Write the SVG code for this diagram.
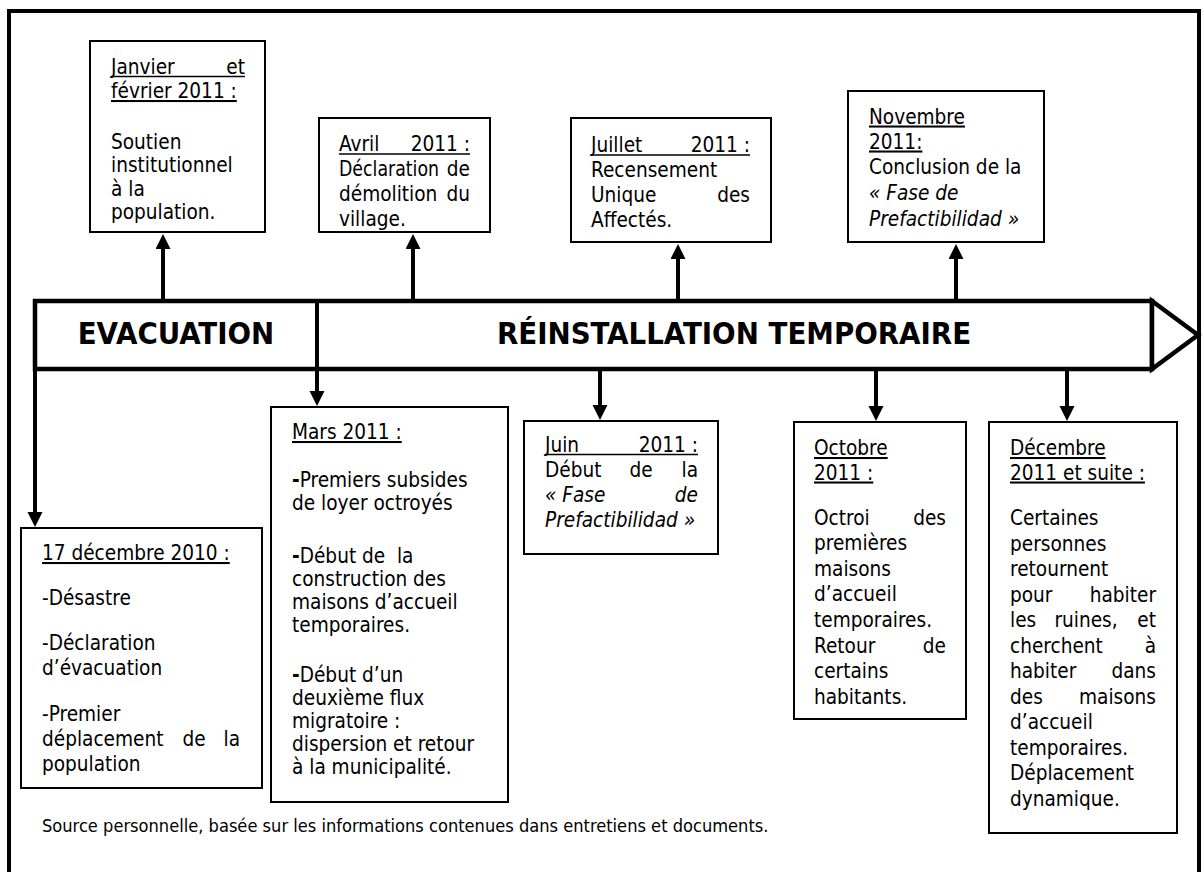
<svg xmlns="http://www.w3.org/2000/svg" width="1204" height="872" viewBox="0 0 1204 872">
<style>
.t{font-family:"DejaVu Sans",Tahoma,Verdana,sans-serif;font-stretch:condensed;font-size:20.6px;fill:#000}
.h{font-family:"DejaVu Sans",Tahoma,Verdana,sans-serif;font-stretch:condensed;font-size:30.8px;font-weight:bold;fill:#000;text-anchor:middle}
.f{font-size:18.1px}
.u{text-decoration:underline}
.i{font-style:italic}
.e{text-anchor:end}
.m{text-anchor:middle}
.box{fill:#fff;stroke:#000;stroke-width:2}
.ul{stroke:#000;stroke-width:1.5}
.conn{stroke:#000;stroke-width:4;fill:none}
.tl{fill:#fff;stroke:#000;stroke-width:4.5;stroke-linejoin:miter}
</style>
<defs>
<marker id="ah" markerUnits="userSpaceOnUse" markerWidth="16" markerHeight="16" refX="1" refY="7.5" orient="auto">
<path d="M0,0 L15,7.5 L0,15 z" fill="#000"/>
</marker>
</defs>
<rect x="0" y="0" width="1204" height="872" fill="#fff"/>
<rect x="9" y="11" width="1190" height="880" fill="none" stroke="#000" stroke-width="4"/>

<g id="timeline">
<rect class="tl" x="35" y="301" width="1117" height="68"/>
<path class="tl" d="M1152,301 L1198,335 L1152,369 Z"/>
<line class="conn" x1="317" y1="301" x2="317" y2="369" stroke-width="4.5"/>
<text class="h" x="176" y="344">EVACUATION</text>
<text class="h" x="734" y="344">RÉINSTALLATION TEMPORAIRE</text>
</g>

<g id="connectors">
<line class="conn" x1="35" y1="369" x2="35" y2="513" marker-end="url(#ah)"/>
<line class="conn" x1="317" y1="369" x2="317" y2="392" marker-end="url(#ah)"/>
<line class="conn" x1="600" y1="369" x2="600" y2="406" marker-end="url(#ah)"/>
<line class="conn" x1="876" y1="369" x2="876" y2="407" marker-end="url(#ah)"/>
<line class="conn" x1="1067" y1="369" x2="1067" y2="407" marker-end="url(#ah)"/>
<line class="conn" x1="163" y1="301" x2="163" y2="248" marker-end="url(#ah)"/>
<line class="conn" x1="413" y1="301" x2="413" y2="248" marker-end="url(#ah)"/>
<line class="conn" x1="678" y1="301" x2="678" y2="258" marker-end="url(#ah)"/>
<line class="conn" x1="956" y1="301" x2="956" y2="258" marker-end="url(#ah)"/>
</g>

<g id="janvier">
<rect class="box" x="90" y="41" width="175" height="191"/>
<text class="t" x="111" y="73.5">Janvier</text>
<text class="t e" x="245" y="73.5">et</text>
<line class="ul" x1="111" y1="76.5" x2="245" y2="76.5"/>
<text class="t u" x="111" y="98">février 2011 :</text>
<text class="t" x="111" y="148.5">Soutien</text>
<text class="t" x="111" y="172">institutionnel</text>
<text class="t" x="111" y="195.5">à la</text>
<text class="t" x="111" y="219">population.</text>
</g>

<g id="avril">
<rect class="box" x="319" y="118" width="171" height="114"/>
<text class="t" x="339" y="151">Avril</text>
<text class="t e" x="470" y="151">2011 :</text>
<line class="ul" x1="339" y1="154" x2="470" y2="154"/>
<text class="t" x="339" y="176" textLength="100" lengthAdjust="spacingAndGlyphs">Déclaration</text>
<text class="t e" x="470" y="176">de</text>
<text class="t" x="339" y="201">démolition</text>
<text class="t e" x="470" y="201">du</text>
<text class="t" x="339" y="226">village.</text>
</g>

<g id="juillet">
<rect class="box" x="571" y="118" width="200" height="124"/>
<text class="t" x="591" y="152">Juillet</text>
<text class="t e" x="750" y="152">2011 :</text>
<line class="ul" x1="591" y1="155" x2="750" y2="155"/>
<text class="t" x="591" y="177">Recensement</text>
<text class="t" x="591" y="202">Unique</text>
<text class="t e" x="750" y="202">des</text>
<text class="t" x="591" y="227">Affectés.</text>
</g>

<g id="novembre">
<rect class="box" x="848" y="91" width="196" height="151"/>
<text class="t u" x="869" y="123.5">Novembre</text>
<text class="t u" x="869" y="148.5">2011:</text>
<text class="t" x="869" y="174">Conclusion de la</text>
<text class="t i" x="869" y="200">« Fase de</text>
<text class="t i" x="869" y="226">Prefactibilidad »</text>
</g>

<g id="decembre2010">
<rect class="box" x="21" y="528" width="241" height="260"/>
<text class="t u" x="42" y="560">17 décembre 2010 :</text>
<text class="t" x="42" y="605">-Désastre</text>
<text class="t" x="42" y="650">-Déclaration</text>
<text class="t" x="42" y="675">d’évacuation</text>
<text class="t" x="42" y="721">-Premier</text>
<text class="t" x="42" y="746">déplacement</text>
<text class="t m" x="194" y="746">de</text>
<text class="t e" x="240" y="746">la</text>
<text class="t" x="42" y="771">population</text>
</g>

<g id="mars">
<rect class="box" x="271" y="407" width="237" height="395"/>
<text class="t u" x="292" y="439">Mars 2011 :</text>
<text class="t" x="292" y="487"><tspan font-weight="bold">-</tspan>Premiers subsides</text>
<text class="t" x="292" y="510">de loyer octroyés</text>
<text class="t" x="292" y="563" xml:space="preserve"><tspan font-weight="bold">-</tspan>Début de  la</text>
<text class="t" x="292" y="586">construction des</text>
<text class="t" x="292" y="609">maisons d’accueil</text>
<text class="t" x="292" y="632">temporaires.</text>
<text class="t" x="292" y="682"><tspan font-weight="bold">-</tspan>Début d’un</text>
<text class="t" x="292" y="705">deuxième flux</text>
<text class="t" x="292" y="728">migratoire :</text>
<text class="t" x="292" y="751">dispersion et retour</text>
<text class="t" x="292" y="774">à la municipalité.</text>
</g>

<g id="juin">
<rect class="box" x="524" y="421" width="194" height="133"/>
<text class="t" x="545" y="451.5">Juin</text>
<text class="t e" x="698" y="451.5">2011 :</text>
<line class="ul" x1="545" y1="454.5" x2="698" y2="454.5"/>
<text class="t" x="545" y="477">Début</text>
<text class="t m" x="641" y="477">de</text>
<text class="t e" x="698" y="477">la</text>
<text class="t i" x="545" y="501.5">« Fase</text>
<text class="t i e" x="698" y="501.5">de</text>
<text class="t i" x="545" y="526.5">Prefactibilidad »</text>
</g>

<g id="octobre">
<rect class="box" x="794" y="422" width="172" height="297"/>
<text class="t u" x="814" y="455">Octobre</text>
<text class="t u" x="814" y="479.5">2011 :</text>
<text class="t" x="814" y="525">Octroi</text>
<text class="t e" x="946" y="525">des</text>
<text class="t" x="814" y="550">premières</text>
<text class="t" x="814" y="575.5">maisons</text>
<text class="t" x="814" y="601">d’accueil</text>
<text class="t" x="814" y="627">temporaires.</text>
<text class="t" x="814" y="652.5">Retour</text>
<text class="t e" x="946" y="652.5">de</text>
<text class="t" x="814" y="678">certains</text>
<text class="t" x="814" y="703.5">habitants.</text>
</g>

<g id="decembre2011">
<rect class="box" x="989" y="422" width="188" height="411"/>
<text class="t u" x="1010" y="455">Décembre</text>
<text class="t u" x="1010" y="479.5">2011 et suite :</text>
<text class="t" x="1010" y="525">Certaines</text>
<text class="t" x="1010" y="550.5">personnes</text>
<text class="t" x="1010" y="576">retournent</text>
<text class="t" x="1010" y="601.5">pour</text>
<text class="t e" x="1156" y="601.5">habiter</text>
<text class="t" x="1010" y="627">les</text>
<text class="t m" x="1086" y="627">ruines,</text>
<text class="t e" x="1156" y="627">et</text>
<text class="t" x="1010" y="652.5">cherchent</text>
<text class="t e" x="1156" y="652.5">à</text>
<text class="t" x="1010" y="678">habiter</text>
<text class="t e" x="1156" y="678">dans</text>
<text class="t" x="1010" y="703.5">des</text>
<text class="t e" x="1156" y="703.5">maisons</text>
<text class="t" x="1010" y="729">d’accueil</text>
<text class="t" x="1010" y="754.5">temporaires.</text>
<text class="t" x="1010" y="780">Déplacement</text>
<text class="t" x="1010" y="805.5">dynamique.</text>
</g>

<g id="source">
<text class="t f" x="42" y="832">Source personnelle, basée sur les informations contenues dans entretiens et documents.</text>
</g>
</svg>
